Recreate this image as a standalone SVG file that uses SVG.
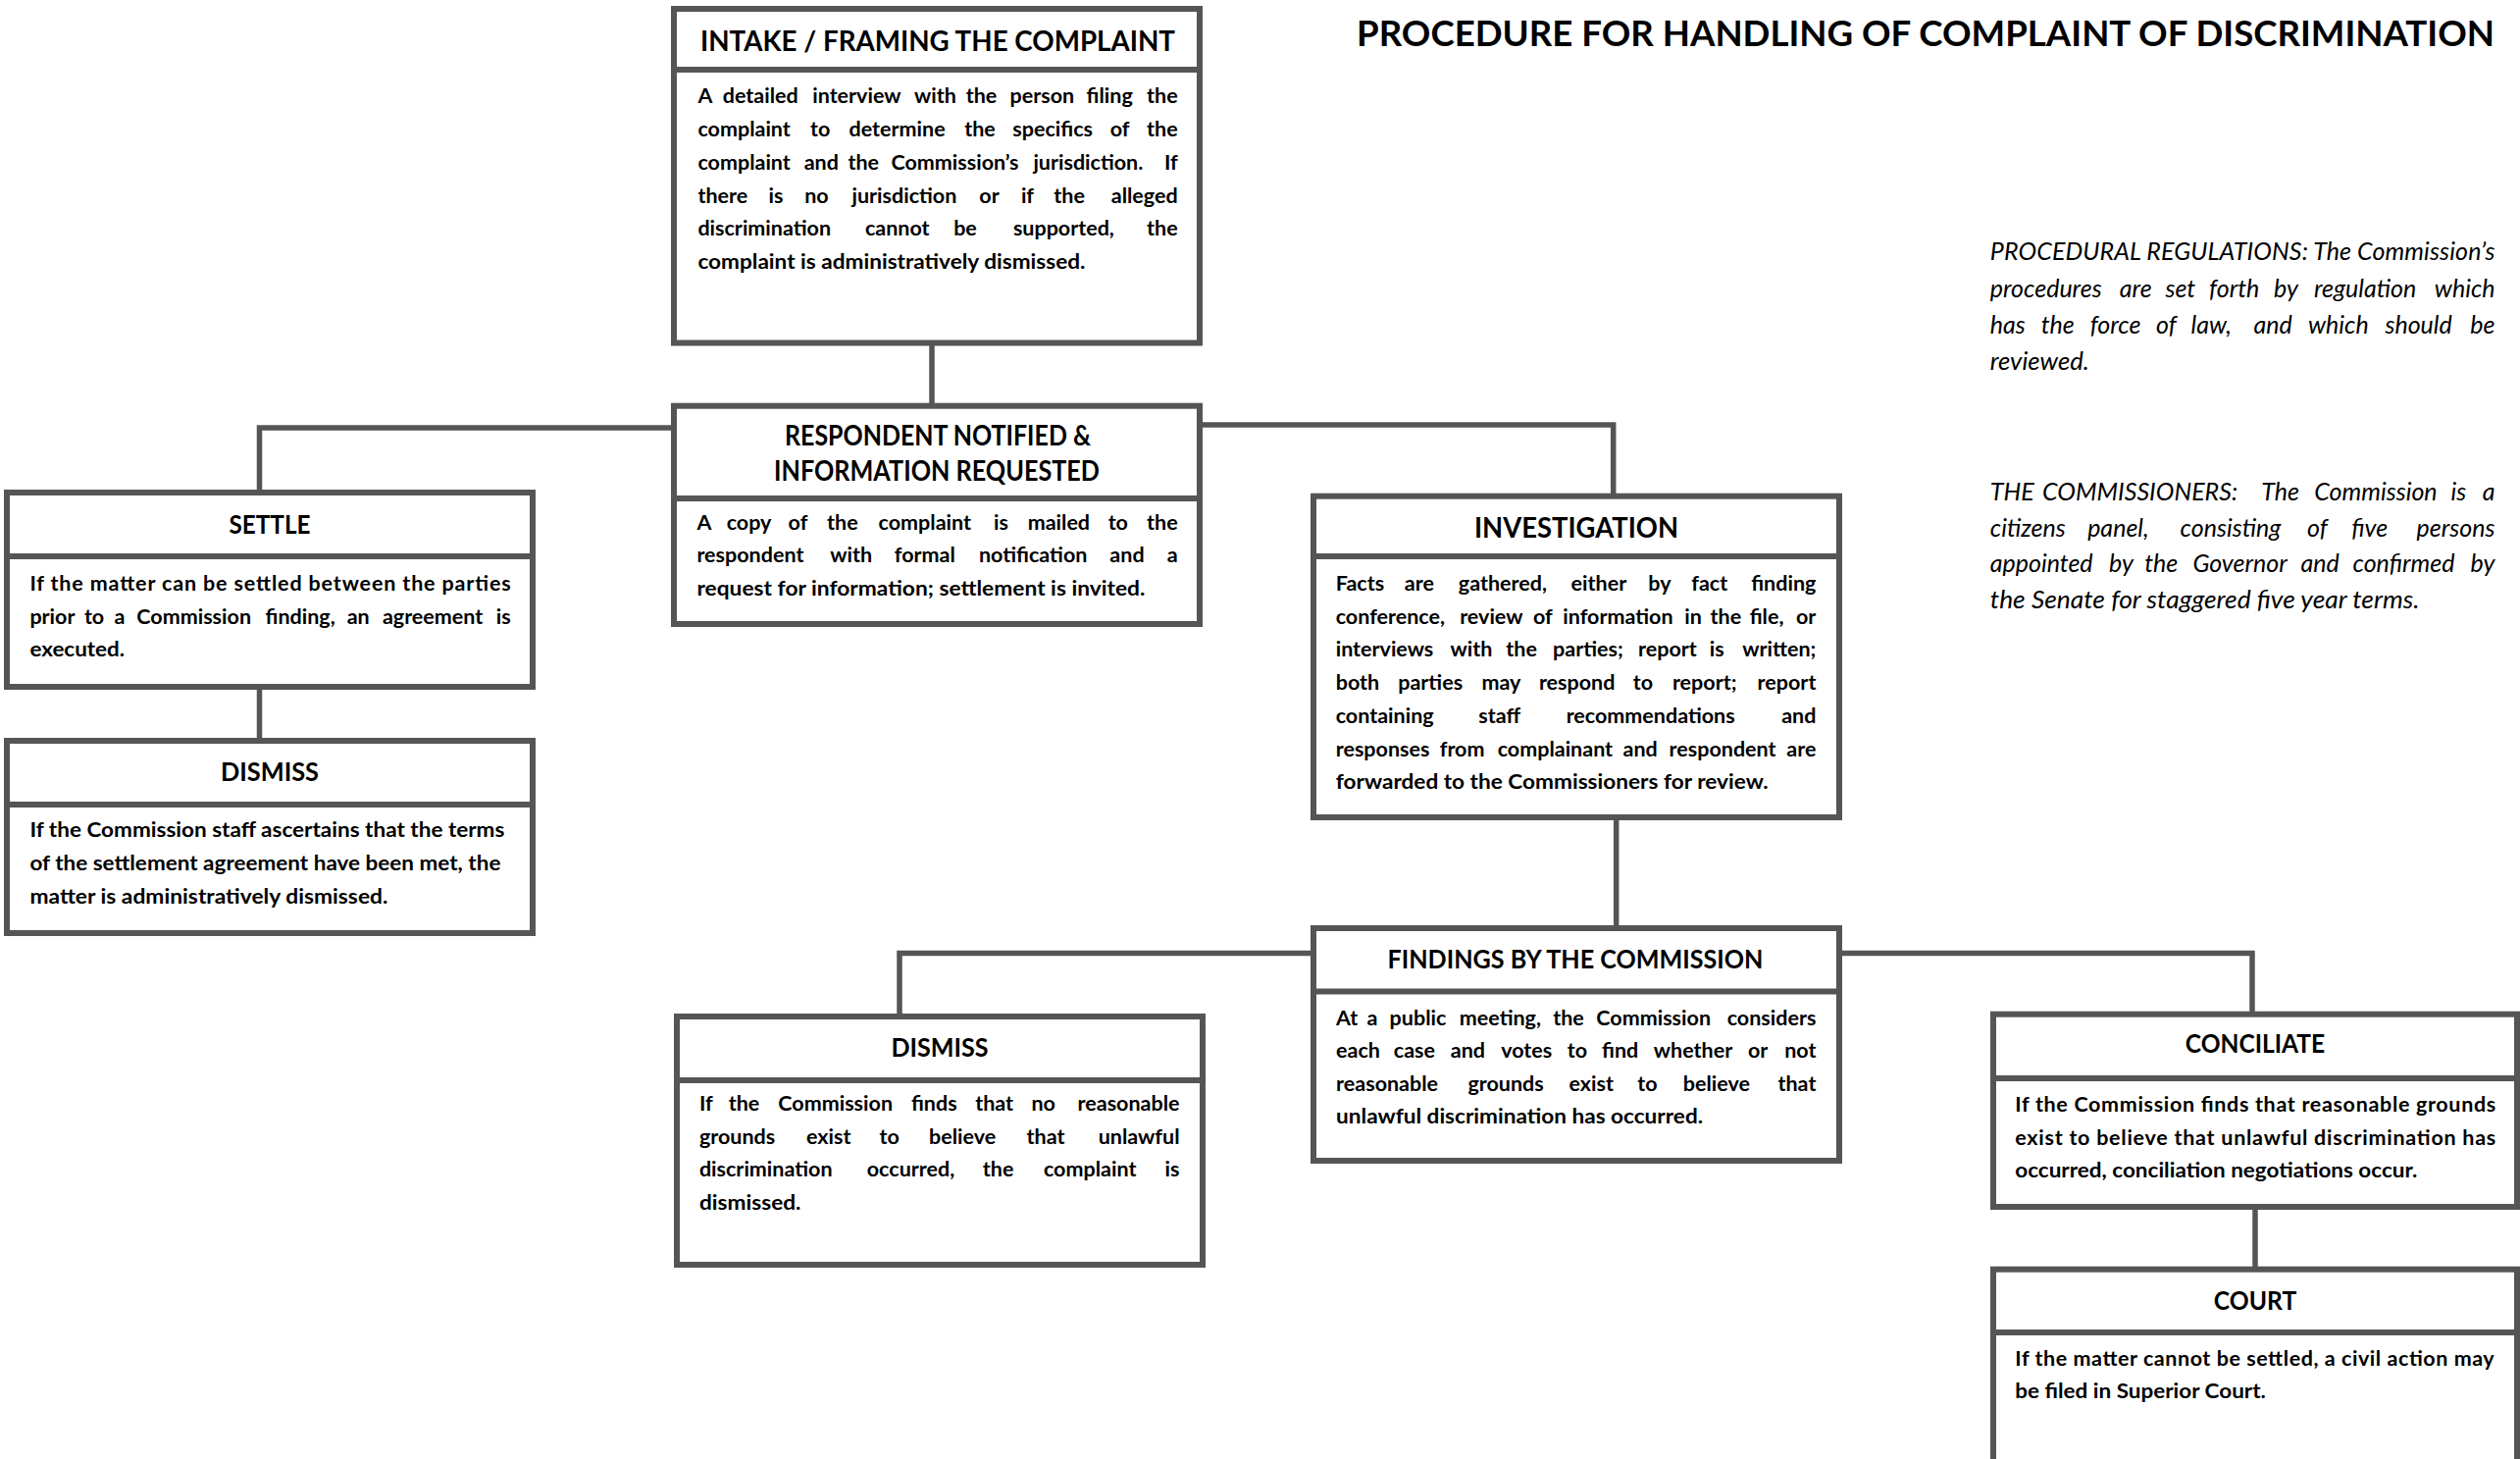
<svg xmlns="http://www.w3.org/2000/svg" width="2569" height="1487" viewBox="0 0 2569 1487">
<style>
.box{fill:#fff;stroke:#555;stroke-width:6}
.dv{stroke:#555;stroke-width:6}
.conn{fill:none;stroke:#555;stroke-width:5.5;stroke-linejoin:miter;stroke-linecap:butt}
.hd{font-family:Lato,"Liberation Sans",sans-serif;font-weight:bold;font-size:26px;text-anchor:middle;fill:#000}
.hl{font-size:28px}
.bd{font-family:Lato,"Liberation Sans",sans-serif;font-weight:bold;font-size:21.5px;fill:#000}
.nt{font-family:Lato,"Liberation Sans",sans-serif;font-style:italic;font-size:25px;fill:#000}
.ti{font-family:Lato,"Liberation Sans",sans-serif;font-weight:bold;font-size:36px;fill:#000}
.m{text-anchor:middle}
.e{text-anchor:end}
</style>
<rect width="2569" height="1487" fill="#fff"/>

<g id="connectors">
<path class="conn" d="M950,349 V414"/>
<path class="conn" d="M687,436 H264.5 V502"/>
<path class="conn" d="M264.5,700 V755"/>
<path class="conn" d="M1223,433 H1644.7 V506"/>
<path class="conn" d="M1647.7,833 V946"/>
<path class="conn" d="M1339,971.5 H917 V1036"/>
<path class="conn" d="M1875,971.5 H2296 V1034"/>
<path class="conn" d="M2299,1230 V1294"/>
</g>

<g id="title">
<text class="ti" x="1383" y="46.7" textLength="1160" lengthAdjust="spacingAndGlyphs">PROCEDURE FOR HANDLING OF COMPLAINT OF DISCRIMINATION</text>
</g>

<g id="intake">
<rect class="box" x="687" y="9" width="536" height="340.5"/>
<line class="dv" x1="687" y1="71" x2="1223" y2="71"/>
<text class="hd hl" x="956" y="51.7" textLength="484" lengthAdjust="spacingAndGlyphs">INTAKE / FRAMING THE COMPLAINT</text>
<text class="bd" y="105"><tspan x="711.4">A</tspan> <tspan class="m" x="777.9">detailed</tspan> <tspan class="m" x="875.8">interview</tspan> <tspan class="m" x="956.1">with</tspan> <tspan class="m" x="1003.1">the</tspan> <tspan class="m" x="1065">person</tspan> <tspan class="m" x="1133.8">filing</tspan> <tspan class="e" x="1200.7">the</tspan></text>
<text class="bd" y="139"><tspan x="711.4">complaint</tspan> <tspan class="m" x="838.8">to</tspan> <tspan class="m" x="917.2">determine</tspan> <tspan class="m" x="1001.6">the</tspan> <tspan class="m" x="1075.8">specifics</tspan> <tspan class="m" x="1144">of</tspan> <tspan class="e" x="1200.7">the</tspan></text>
<text class="bd" y="172.7"><tspan x="711.4">complaint</tspan> <tspan class="m" x="839.9">and</tspan> <tspan class="m" x="882.9">the</tspan> <tspan class="m" x="976.1">Commission’s</tspan> <tspan class="m" x="1112">jurisdiction.</tspan> <tspan class="e" x="1200.7">If</tspan></text>
<text class="bd" y="206.7"><tspan x="711.4">there</tspan> <tspan class="m" x="793.6">is</tspan> <tspan class="m" x="835">no</tspan> <tspan class="m" x="924.5">jurisdiction</tspan> <tspan class="m" x="1010.9">or</tspan> <tspan class="m" x="1049.9">if</tspan> <tspan class="m" x="1092.7">the</tspan> <tspan class="e" x="1200.7">alleged</tspan></text>
<text class="bd" y="240"><tspan x="711.4">discrimination</tspan> <tspan class="m" x="917.4">cannot</tspan> <tspan class="m" x="986.6">be</tspan> <tspan class="m" x="1087">supported,</tspan> <tspan class="e" x="1200.7">the</tspan></text>
<text class="bd" x="711.4" y="274" textLength="395" lengthAdjust="spacingAndGlyphs">complaint is administratively dismissed.</text>
</g>

<g id="respondent">
<rect class="box" x="687" y="413.7" width="536" height="222.3"/>
<line class="dv" x1="687" y1="508" x2="1223" y2="508"/>
<text class="hd hl" x="956" y="454" textLength="312" lengthAdjust="spacingAndGlyphs">RESPONDENT NOTIFIED &amp;</text>
<text class="hd hl" x="955" y="490" textLength="332" lengthAdjust="spacingAndGlyphs">INFORMATION REQUESTED</text>
<text class="bd" y="540"><tspan x="710.4">A</tspan> <tspan class="m" x="765.9">copy</tspan> <tspan class="m" x="815.9">of</tspan> <tspan class="m" x="861.5">the</tspan> <tspan class="m" x="945.4">complaint</tspan> <tspan class="m" x="1023.1">is</tspan> <tspan class="m" x="1082">mailed</tspan> <tspan class="m" x="1142.4">to</tspan> <tspan class="e" x="1200.7">the</tspan></text>
<text class="bd" y="573.3"><tspan x="710.4">respondent</tspan> <tspan class="m" x="870.4">with</tspan> <tspan class="m" x="945.4">formal</tspan> <tspan class="m" x="1055.8">notification</tspan> <tspan class="m" x="1151.6">and</tspan> <tspan class="e" x="1200.7">a</tspan></text>
<text class="bd" x="710.4" y="606.7" textLength="457" lengthAdjust="spacingAndGlyphs">request for information; settlement is invited.</text>
</g>

<g id="settle">
<rect class="box" x="7" y="502" width="536" height="198"/>
<line class="dv" x1="7" y1="567" x2="543" y2="567"/>
<text class="hd" x="275" y="544" textLength="83" lengthAdjust="spacingAndGlyphs">SETTLE</text>
<text class="bd" x="30.4" y="601.7" textLength="490.3" lengthAdjust="spacing">If the matter can be settled between the parties</text>
<text class="bd" y="635.7"><tspan x="30.4">prior</tspan> <tspan class="m" x="98.7">to</tspan> <tspan class="m" x="124.5">a</tspan> <tspan class="m" x="200.3">Commission</tspan> <tspan class="m" x="308.7">finding,</tspan> <tspan class="m" x="367.8">an</tspan> <tspan class="m" x="443.7">agreement</tspan> <tspan class="e" x="520.7">is</tspan></text>
<text class="bd" x="30.4" y="669.3" textLength="96.7" lengthAdjust="spacingAndGlyphs">executed.</text>
</g>

<g id="dismiss-settlement">
<rect class="box" x="7" y="755" width="536" height="196"/>
<line class="dv" x1="7" y1="820" x2="543" y2="820"/>
<text class="hd" x="275" y="796" textLength="100" lengthAdjust="spacingAndGlyphs">DISMISS</text>
<text class="bd" x="30.4" y="853" textLength="484" lengthAdjust="spacingAndGlyphs">If the Commission staff ascertains that the terms</text>
<text class="bd" x="30.4" y="887" textLength="480" lengthAdjust="spacingAndGlyphs">of the settlement agreement have been met, the</text>
<text class="bd" x="30.4" y="920.7" textLength="365" lengthAdjust="spacingAndGlyphs">matter is administratively dismissed.</text>
</g>

<g id="investigation">
<rect class="box" x="1339" y="505.7" width="536" height="327.3"/>
<line class="dv" x1="1339" y1="567" x2="1875" y2="567"/>
<text class="hd hl" x="1607" y="548.3" textLength="208" lengthAdjust="spacingAndGlyphs">INVESTIGATION</text>
<text class="bd" y="601.7"><tspan x="1361.7">Facts</tspan> <tspan class="m" x="1449.5">are</tspan> <tspan class="m" x="1534.5">gathered,</tspan> <tspan class="m" x="1632.3">either</tspan> <tspan class="m" x="1694.3">by</tspan> <tspan class="m" x="1745.3">fact</tspan> <tspan class="e" x="1851.4">finding</tspan></text>
<text class="bd" y="635.7"><tspan x="1361.7">conference,</tspan> <tspan class="m" x="1522.7">review</tspan> <tspan class="m" x="1575.3">of</tspan> <tspan class="m" x="1652">information</tspan> <tspan class="m" x="1728.7">in</tspan> <tspan class="m" x="1762">the</tspan> <tspan class="m" x="1803.7">file,</tspan> <tspan class="e" x="1851.4">or</tspan></text>
<text class="bd" y="669.3"><tspan x="1361.7">interviews</tspan> <tspan class="m" x="1502.5">with</tspan> <tspan class="m" x="1553.7">the</tspan> <tspan class="m" x="1621.5">parties;</tspan> <tspan class="m" x="1702.5">report</tspan> <tspan class="m" x="1752.8">is</tspan> <tspan class="e" x="1851.4">written;</tspan></text>
<text class="bd" y="703.3"><tspan x="1361.7">both</tspan> <tspan class="m" x="1460.8">parties</tspan> <tspan class="m" x="1532.8">may</tspan> <tspan class="m" x="1610.3">respond</tspan> <tspan class="m" x="1677.5">to</tspan> <tspan class="m" x="1740.3">report;</tspan> <tspan class="e" x="1851.4">report</tspan></text>
<text class="bd" y="736.7"><tspan x="1361.7">containing</tspan> <tspan class="m" x="1531.2">staff</tspan> <tspan class="m" x="1685.3">recommendations</tspan> <tspan class="e" x="1851.4">and</tspan></text>
<text class="bd" y="770.7"><tspan x="1361.7">responses</tspan> <tspan class="m" x="1493.2">from</tspan> <tspan class="m" x="1588">complainant</tspan> <tspan class="m" x="1674.8">and</tspan> <tspan class="m" x="1758.7">respondent</tspan> <tspan class="e" x="1851.4">are</tspan></text>
<text class="bd" x="1361.7" y="804" textLength="441" lengthAdjust="spacingAndGlyphs">forwarded to the Commissioners for review.</text>
</g>

<g id="findings">
<rect class="box" x="1339" y="946" width="536" height="237"/>
<line class="dv" x1="1339" y1="1010.5" x2="1875" y2="1010.5"/>
<text class="hd" x="1606" y="986.7" textLength="383" lengthAdjust="spacingAndGlyphs">FINDINGS BY THE COMMISSION</text>
<text class="bd" y="1045"><tspan x="1362.1">At</tspan> <tspan class="m" x="1401.6">a</tspan> <tspan class="m" x="1448.1">public</tspan> <tspan class="m" x="1532">meeting,</tspan> <tspan class="m" x="1601.6">the</tspan> <tspan class="m" x="1688.3">Commission</tspan> <tspan class="e" x="1851.4">considers</tspan></text>
<text class="bd" y="1078.3"><tspan x="1362.1">each</tspan> <tspan class="m" x="1444.5">case</tspan> <tspan class="m" x="1499">and</tspan> <tspan class="m" x="1558.8">votes</tspan> <tspan class="m" x="1610.6">to</tspan> <tspan class="m" x="1654.3">find</tspan> <tspan class="m" x="1728.4">whether</tspan> <tspan class="m" x="1794.5">or</tspan> <tspan class="e" x="1851.4">not</tspan></text>
<text class="bd" y="1111.7"><tspan x="1362.1">reasonable</tspan> <tspan class="m" x="1537.7">grounds</tspan> <tspan class="m" x="1624.9">exist</tspan> <tspan class="m" x="1682">to</tspan> <tspan class="m" x="1752.5">believe</tspan> <tspan class="e" x="1851.4">that</tspan></text>
<text class="bd" x="1362.1" y="1145" textLength="374" lengthAdjust="spacingAndGlyphs">unlawful discrimination has occurred.</text>
</g>

<g id="dismiss-findings">
<rect class="box" x="690" y="1036" width="536" height="253"/>
<line class="dv" x1="690" y1="1101" x2="1226" y2="1101"/>
<text class="hd" x="958" y="1076.7" textLength="99" lengthAdjust="spacingAndGlyphs">DISMISS</text>
<text class="bd" y="1131.7"><tspan x="712.9">If</tspan> <tspan class="m" x="761.1">the</tspan> <tspan class="m" x="854.3">Commission</tspan> <tspan class="m" x="954.9">finds</tspan> <tspan class="m" x="1016.3">that</tspan> <tspan class="m" x="1066.3">no</tspan> <tspan class="e" x="1202.5">reasonable</tspan></text>
<text class="bd" y="1165.7"><tspan x="712.9">grounds</tspan> <tspan class="m" x="847.4">exist</tspan> <tspan class="m" x="909.3">to</tspan> <tspan class="m" x="983.8">believe</tspan> <tspan class="m" x="1068.6">that</tspan> <tspan class="e" x="1202.5">unlawful</tspan></text>
<text class="bd" y="1199.3"><tspan x="712.9">discrimination</tspan> <tspan class="m" x="931.1">occurred,</tspan> <tspan class="m" x="1020.2">the</tspan> <tspan class="m" x="1113.8">complaint</tspan> <tspan class="e" x="1202.5">is</tspan></text>
<text class="bd" x="712.9" y="1233.3" textLength="103.6" lengthAdjust="spacingAndGlyphs">dismissed.</text>
</g>

<g id="conciliate">
<rect class="box" x="2032" y="1033.7" width="534" height="196.3"/>
<line class="dv" x1="2032" y1="1099" x2="2566" y2="1099"/>
<text class="hd" x="2299" y="1073.3" textLength="142.5" lengthAdjust="spacingAndGlyphs">CONCILIATE</text>
<text class="bd" x="2054.3" y="1133.3" textLength="490" lengthAdjust="spacing">If the Commission finds that reasonable grounds</text>
<text class="bd" x="2054.3" y="1166.7" textLength="490" lengthAdjust="spacing">exist to believe that unlawful discrimination has</text>
<text class="bd" x="2054.3" y="1200" textLength="410" lengthAdjust="spacingAndGlyphs">occurred, conciliation negotiations occur.</text>
</g>

<g id="court">
<rect class="box" x="2032" y="1293.7" width="534" height="230"/>
<line class="dv" x1="2032" y1="1358" x2="2566" y2="1358"/>
<text class="hd" x="2299" y="1335" textLength="84.4" lengthAdjust="spacingAndGlyphs">COURT</text>
<text class="bd" x="2054.3" y="1391.7" textLength="488.4" lengthAdjust="spacing">If the matter cannot be settled, a civil action may</text>
<text class="bd" x="2054.3" y="1425" textLength="255.6" lengthAdjust="spacingAndGlyphs">be filed in Superior Court.</text>
</g>

<g id="notes">
<text class="nt" x="2028.8" y="265" textLength="514.7" lengthAdjust="spacing">PROCEDURAL REGULATIONS: The Commission’s</text>
<text class="nt" y="303.3"><tspan x="2028.8">procedures</tspan> <tspan class="m" x="2180.2">are</tspan> <tspan class="m" x="2225.8">set</tspan> <tspan class="m" x="2280.6">forth</tspan> <tspan class="m" x="2333.2">by</tspan> <tspan class="m" x="2414">regulation</tspan> <tspan class="e" x="2543.5">which</tspan></text>
<text class="nt" y="340"><tspan x="2028.8">has</tspan> <tspan class="m" x="2100.7">the</tspan> <tspan class="m" x="2159.5">force</tspan> <tspan class="m" x="2211.2">of</tspan> <tspan class="m" x="2257.2">law,</tspan> <tspan class="m" x="2320.1">and</tspan> <tspan class="m" x="2386.8">which</tspan> <tspan class="m" x="2468.5">should</tspan> <tspan class="e" x="2543.5">be</tspan></text>
<text class="nt" x="2028.8" y="376.7" textLength="101" lengthAdjust="spacingAndGlyphs">reviewed.</text>
<text class="nt" y="510"><tspan x="2028.8">THE</tspan> <tspan class="m" x="2184.5">COMMISSIONERS:</tspan> <tspan class="m" x="2327.6">The</tspan> <tspan class="m" x="2424.9">Commission</tspan> <tspan class="m" x="2509.4">is</tspan> <tspan class="e" x="2543.5">a</tspan></text>
<text class="nt" y="546.7"><tspan x="2028.8">citizens</tspan> <tspan class="m" x="2162.3">panel,</tspan> <tspan class="m" x="2276.9">consisting</tspan> <tspan class="m" x="2365.2">of</tspan> <tspan class="m" x="2418.7">five</tspan> <tspan class="e" x="2543.5">persons</tspan></text>
<text class="nt" y="583.3"><tspan x="2028.8">appointed</tspan> <tspan class="m" x="2165.1">by</tspan> <tspan class="m" x="2206.1">the</tspan> <tspan class="m" x="2286.3">Governor</tspan> <tspan class="m" x="2368">and</tspan> <tspan class="m" x="2453.4">confirmed</tspan> <tspan class="e" x="2543.5">by</tspan></text>
<text class="nt" x="2028.8" y="620" textLength="437.6" lengthAdjust="spacingAndGlyphs">the Senate for staggered five year terms.</text>
</g>
</svg>
